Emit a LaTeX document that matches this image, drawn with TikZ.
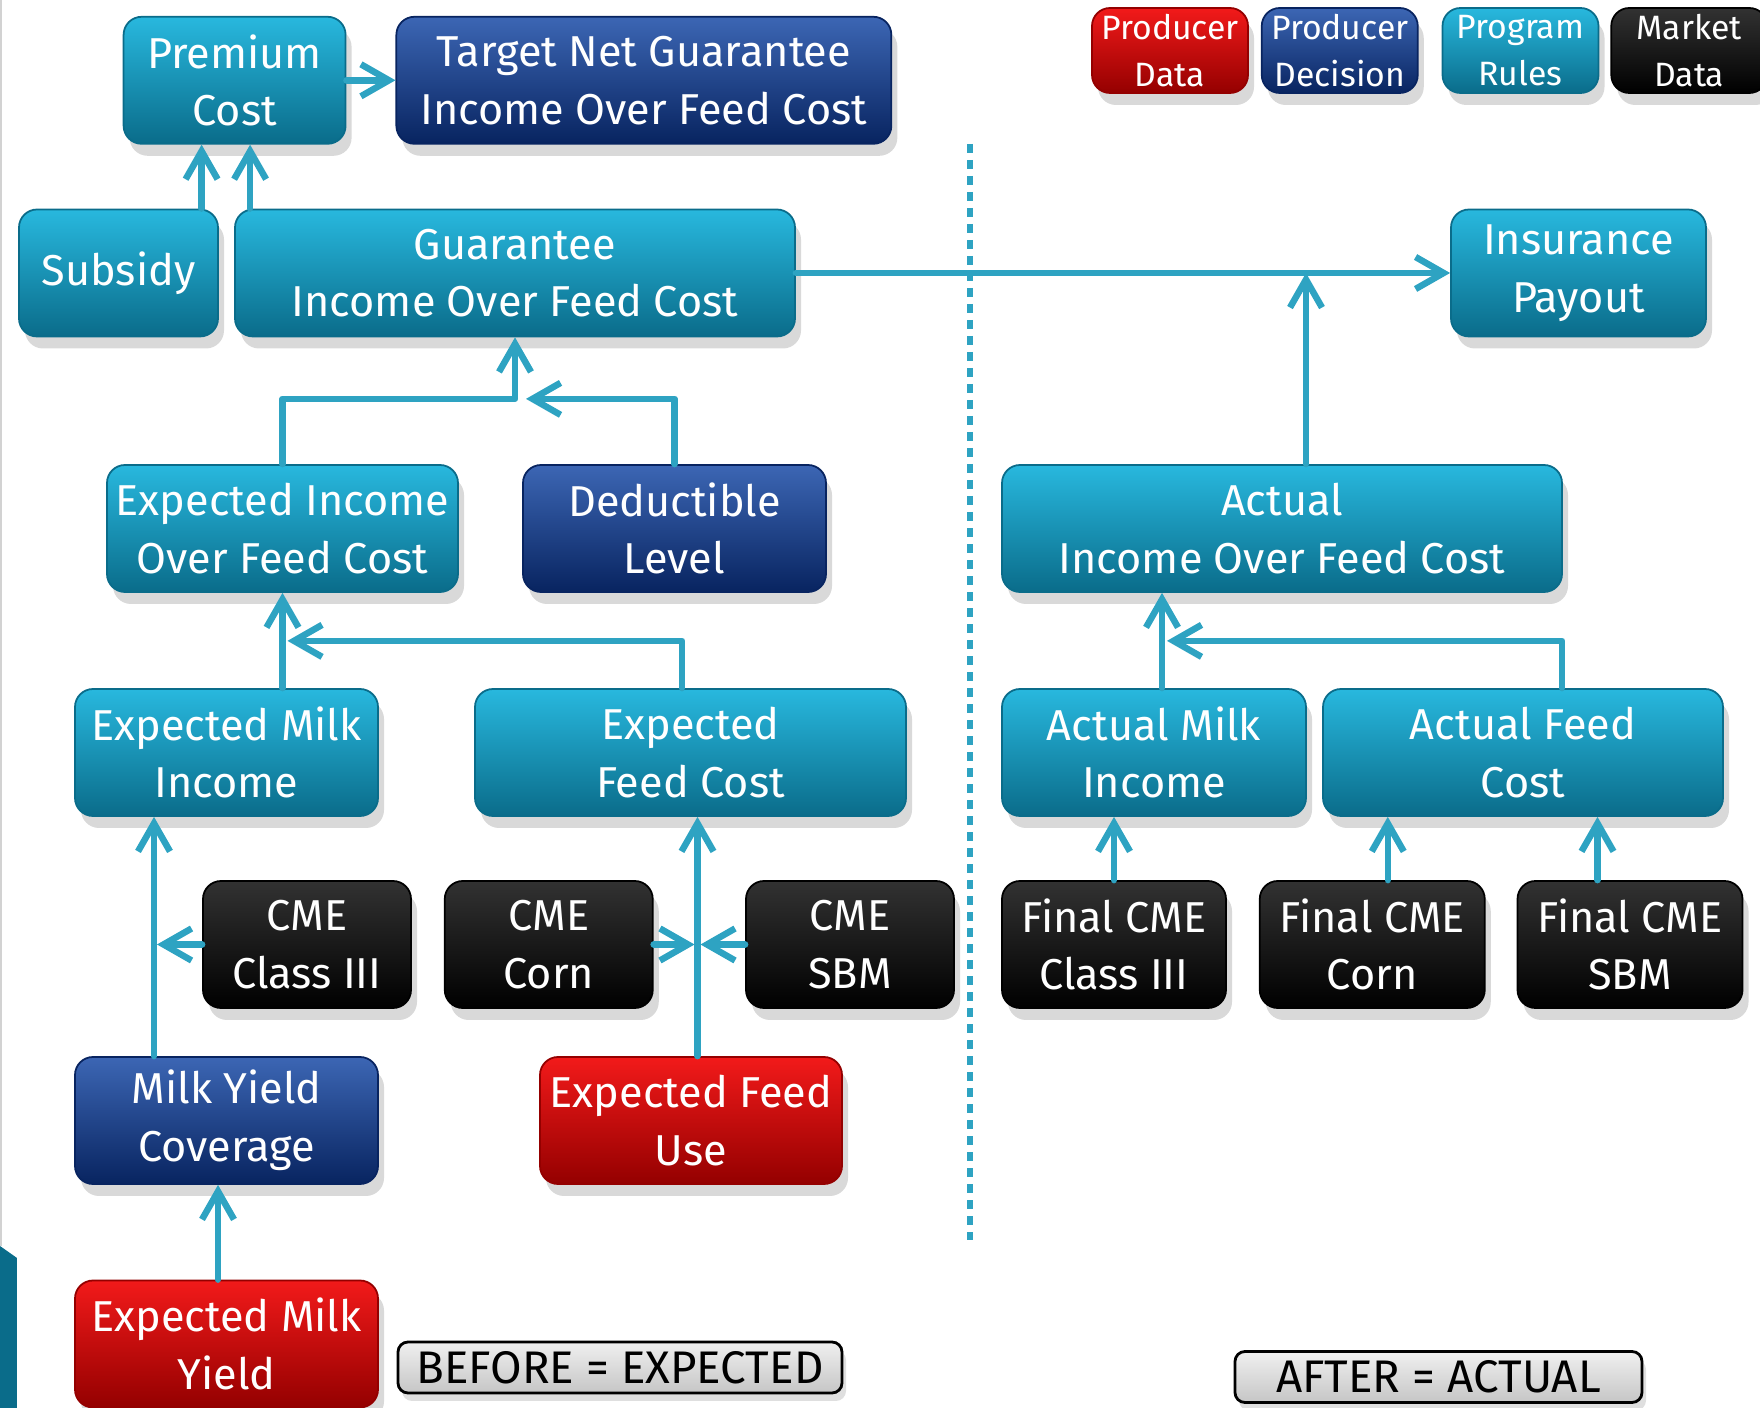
\documentclass[tikz,border=0pt]{standalone}
\usepackage{fontspec}
\setmainfont{Fira Sans}
\usepackage{xcolor}
\definecolor{colorRulesTop}{RGB}{40,184,222}
\definecolor{colorRulesBottom}{RGB}{10,108,138}
\definecolor{colorDecisionTop}{RGB}{60,102,180}
\definecolor{colorDecisionBottom}{RGB}{8,36,96}
\definecolor{colorDataTop}{RGB}{242,26,26}
\definecolor{colorDataBottom}{RGB}{148,0,0}
\definecolor{colorMarketTop}{RGB}{50,50,50}
\definecolor{colorMarketBottom}{RGB}{0,0,0}
\definecolor{colorArrow}{RGB}{46,163,194}
\usepackage{tikz}
\usetikzlibrary{arrows.meta, positioning, shadows}
\tikzset{
  card/.style={rectangle, rounded corners=0.18cm, minimum height=1.27cm, inner sep=0pt, align=center, text=white,
    font=\fontsize{12.3}{16.4}\selectfont, line width=0.5pt, drop shadow={opacity=0.3, shadow xshift=0.6mm, shadow yshift=-1.2mm}},
  rulesBox/.style={card, draw=colorRulesBottom, top color=colorRulesTop, bottom color=colorRulesBottom},
  decisionBox/.style={card, draw=colorDecisionBottom, top color=colorDecisionTop, bottom color=colorDecisionBottom},
  dataBox/.style={card, draw=colorDataBottom, top color=colorDataTop, bottom color=colorDataBottom},
  marketBox/.style={card, draw=black, top color=colorMarketTop, bottom color=colorMarketBottom},
  legend/.style={minimum width=1.56cm, minimum height=0.85cm, font=\fontsize{9.6}{13.4}\selectfont},
  stage/.style={rectangle, rounded corners=0.1cm, draw=black, line width=0.8pt, top color=gray!12, bottom color=gray!45,
    minimum height=0.51cm, inner sep=0pt, font=\fontsize{13}{14}\selectfont, drop shadow={opacity=0.25, shadow xshift=0.4mm, shadow yshift=-0.8mm}},
  flow/.style={->, colorArrow, line width=0.065cm, line cap=round, line join=round}
}

\begin{document}
\begin{tikzpicture}[>={Straight Barb[length=2.8mm, width=3.2mm]}]
\useasboundingbox (0,0) rectangle (17.6,14.08);
\fill[colorRulesBottom] (0,1.62) -- (0.17,1.50) -- (0.17,0) -- (0,0) -- cycle;
\draw[gray!35, line width=0.3pt] (0.01,14.08) -- (0.01,1.62);

\node[dataBox, legend] (pData) at (11.7,13.575) {Producer\\Data};
\node[decisionBox, legend, right=0.12cm of pData] (pDecision) {Producer\\Decision};
\node[rulesBox, legend, right=0.23cm of pDecision] (pRules) {Program\\Rules};
\node[marketBox, legend, right=0.11cm of pRules] (mData) {Market\\Data};

\node[rulesBox, minimum width=2.22cm] (premium) at (2.346,13.277) {Premium\\Cost};
\node[decisionBox, minimum width=4.95cm, right=0.49cm of premium] (target) {Target Net Guarantee\\Income Over Feed Cost};
\node[rulesBox, minimum width=1.99cm] (subsidy) at (1.185,11.35) {Subsidy};
\node[rulesBox, minimum width=5.6cm] (guarantee) at (5.15,11.35) {Guarantee\\Income Over Feed Cost};
\node[rulesBox, minimum width=2.55cm] (payout) at (15.785,11.35) {Insurance\\Payout};

\node[rulesBox, minimum width=3.51cm] (expIncome) at (2.825,8.795) {Expected Income\\Over Feed Cost};
\node[decisionBox, minimum width=3.03cm] (deductible) at (6.745,8.795) {Deductible\\Level};
\node[rulesBox, minimum width=5.6cm] (actual) at (12.82,8.795) {Actual\\Income Over Feed Cost};

\node[rulesBox, minimum width=3.03cm] (expMilk) at (2.265,6.555) {Expected Milk\\Income};
\node[rulesBox, minimum width=4.31cm] (expFeed) at (6.905,6.555) {Expected\\Feed Cost};
\node[rulesBox, minimum width=3.04cm] (actMilk) at (11.54,6.555) {Actual Milk\\Income};
\node[rulesBox, minimum width=4.0cm] (actFeed) at (15.23,6.555) {Actual Feed\\Cost};

\node[marketBox, minimum width=2.08cm] (cmeClass) at (3.07,4.635) {CME\\Class III};
\node[marketBox, minimum width=2.08cm, right=0.32cm of cmeClass] (cmeCorn) {CME\\Corn};
\node[marketBox, minimum width=2.08cm] (cmeSbm) at (8.5,4.635) {CME\\SBM};
\node[marketBox, minimum width=2.24cm] (finalClass) at (11.14,4.635) {Final CME\\Class III};
\node[marketBox, minimum width=2.25cm, right=0.32cm of finalClass] (finalCorn) {Final CME\\Corn};
\node[marketBox, minimum width=2.25cm, right=0.31cm of finalCorn] (finalSbm) {Final CME\\SBM};

\node[decisionBox, minimum width=3.03cm] (milkCover) at (2.265,2.875) {Milk Yield\\Coverage};
\node[dataBox, minimum width=3.02cm] (feedUse) at (6.91,2.875) {Expected Feed\\Use};
\node[dataBox, minimum width=3.03cm] (expYield) at (2.265,0.64) {Expected Milk\\Yield};

\node[stage, minimum width=4.44cm] (before) at (6.2,0.405) {BEFORE = EXPECTED};
\node[stage, minimum width=4.07cm] (after) at (14.385,0.31) {AFTER = ACTUAL};

\draw[colorArrow, line width=0.06cm, dash pattern=on 0.09cm off 0.07cm] (9.70,12.64) -- (9.70,1.68);

\draw[flow] ([xshift=-3.3mm]premium.south |- subsidy.north) -- ([xshift=-3.3mm]premium.south);
\draw[flow] ([xshift=1.55mm]premium.south |- guarantee.north) -- ([xshift=1.55mm]premium.south);
\draw[flow] (premium.east) -- (target.west);
\draw[flow] (guarantee.east) -- (payout.west);
\draw[flow] ([xshift=2.4mm]actual.north) -- ([xshift=2.4mm]actual.north |- guarantee.east);

\draw[flow] (expIncome.north) |- ([yshift=-6.15mm]guarantee.south) -- (guarantee.south);
\draw[flow] (deductible.north) |- ([xshift=1.1mm, yshift=-6.15mm]guarantee.south);

\draw[flow] (expIncome.south |- expMilk.north) -- (expIncome.south);
\draw[flow] ([xshift=-0.85mm]expFeed.north) |- ([xshift=0.5mm, yshift=-4.8mm]expIncome.south);

\coordinate (milkLine) at ([xshift=-7.25mm]expMilk.south);
\draw[flow] (milkLine |- milkCover.north) -- (milkLine);
\draw[flow] (cmeClass.west) -- ([xshift=0.3mm]cmeClass.west -| milkLine);
\coordinate (feedLine) at ([xshift=0.7mm]expFeed.south);
\draw[flow] (feedLine |- feedUse.north) -- (feedLine);
\draw[flow] (cmeCorn.east) -- ([xshift=-0.3mm]cmeCorn.east -| feedLine);
\draw[flow] (cmeSbm.west) -- ([xshift=0.3mm]cmeSbm.west -| feedLine);
\draw[flow] ([xshift=-0.85mm]expYield.north) -- ([xshift=-0.85mm]milkCover.south);

\coordinate (actLine) at ([xshift=-12mm]actual.south);
\draw[flow] (actLine |- actMilk.north) -- (actLine);
\draw[flow] ([xshift=3.9mm]actFeed.north) |- ([xshift=0.5mm, yshift=-4.8mm]actLine);
\draw[flow] (finalClass.north) -- (finalClass.north |- actMilk.south);
\draw[flow] ([xshift=1.55mm]finalCorn.north) -- ([xshift=1.55mm]finalCorn.north |- actFeed.south);
\draw[flow] ([xshift=-3.25mm]finalSbm.north) -- ([xshift=-3.25mm]finalSbm.north |- actFeed.south);
\end{tikzpicture}
\end{document}
